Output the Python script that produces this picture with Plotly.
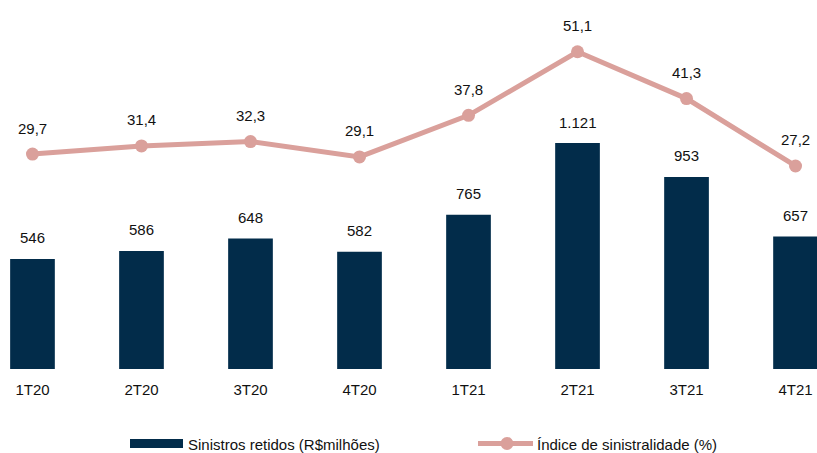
import plotly.graph_objects as go

categories = ["1T20", "2T20", "3T20", "4T20", "1T21", "2T21", "3T21", "4T21"]
sinistros = [546, 586, 648, 582, 765, 1121, 953, 657]
indice = [29.7, 31.4, 32.3, 29.1, 37.8, 51.1, 41.3, 27.2]

bar_name = "Sinistros retidos (R$milhões)"
line_name = "Índice de sinistralidade (%)"

NAVY = "#022C4A"
PINK = "#DAA09B"
FONT = "Liberation Sans, Arial, sans-serif"
FS = 15
TXT = "#111111"

W, H = 817, 453
MT, MB = 10, 84


def fmt_int(v):
    return f"{v:,}".replace(",", ".")


def fmt_dec(v):
    return f"{v:.1f}".replace(".", ",")


fig = go.Figure()
fig.add_trace(go.Bar(
    x=categories, y=sinistros, name=bar_name, marker=dict(color=NAVY, line=dict(width=0)),
    width=0.41, yaxis="y", showlegend=False, hoverinfo="skip"))
fig.add_trace(go.Scatter(
    x=categories, y=indice, name=line_name, mode="lines+markers",
    line=dict(color=PINK, width=5), marker=dict(color=PINK, size=13),
    yaxis="y2", showlegend=False, hoverinfo="skip"))

annotations = []
for c, v in zip(categories, sinistros):
    annotations.append(dict(x=c, y=v, xref="x", yref="y", text=fmt_int(v), showarrow=False,
                            yanchor="middle", yshift=21, font=dict(family=FONT, size=FS, color=TXT)))
for c, v in zip(categories, indice):
    annotations.append(dict(x=c, y=v, xref="x", yref="y2", text=fmt_dec(v), showarrow=False,
                            yanchor="middle", yshift=26, font=dict(family=FONT, size=FS, color=TXT)))

plot_h = H - MT - MB
plot_w = W


def px(p):
    return p / plot_w


def py(p):
    return (H - MB - p) / plot_h


# manual legend (page pixel positions)
shapes = [
    dict(type="rect", xref="paper", yref="paper", x0=px(130), x1=px(183), y0=py(448), y1=py(439),
         fillcolor=NAVY, line=dict(width=0)),
    dict(type="line", xref="paper", yref="paper", x0=px(478), x1=px(533), y0=py(443.5), y1=py(443.5),
         line=dict(color=PINK, width=5)),
    dict(type="circle", xref="paper", yref="paper", x0=px(500.5), x1=px(513.5), y0=py(450), y1=py(437),
         fillcolor=PINK, line=dict(width=0)),
]
annotations.append(dict(x=px(186), y=py(444), xref="paper", yref="paper", text=bar_name, showarrow=False,
                        xanchor="left", yanchor="middle", font=dict(family=FONT, size=FS, color=TXT)))
annotations.append(dict(x=px(535), y=py(444), xref="paper", yref="paper", text=line_name, showarrow=False,
                        xanchor="left", yanchor="middle", font=dict(family=FONT, size=FS, color=TXT)))

fig.update_layout(
    width=W, height=H,
    margin=dict(l=0, r=0, t=MT, b=MB, pad=0),
    paper_bgcolor="white", plot_bgcolor="white",
    font=dict(family=FONT, size=FS, color=TXT),
    xaxis=dict(type="category", range=[-0.298, 7.197], showgrid=False, zeroline=False,
               showline=False, ticks="", ticklabelstandoff=10,
               tickfont=dict(family=FONT, size=FS, color=TXT)),
    yaxis=dict(range=[0, 1781], visible=False, showgrid=False, zeroline=False),
    yaxis2=dict(range=[-15.27, 59.83], overlaying="y", side="right", visible=False,
                showgrid=False, zeroline=False),
    annotations=annotations,
    shapes=shapes,
    showlegend=False,
)

fig.write_html(
    "out.html",
    config={"displayModeBar": False, "staticPlot": True},
    post_script="document.body.style.margin='0';document.body.style.overflow='hidden';",
)
